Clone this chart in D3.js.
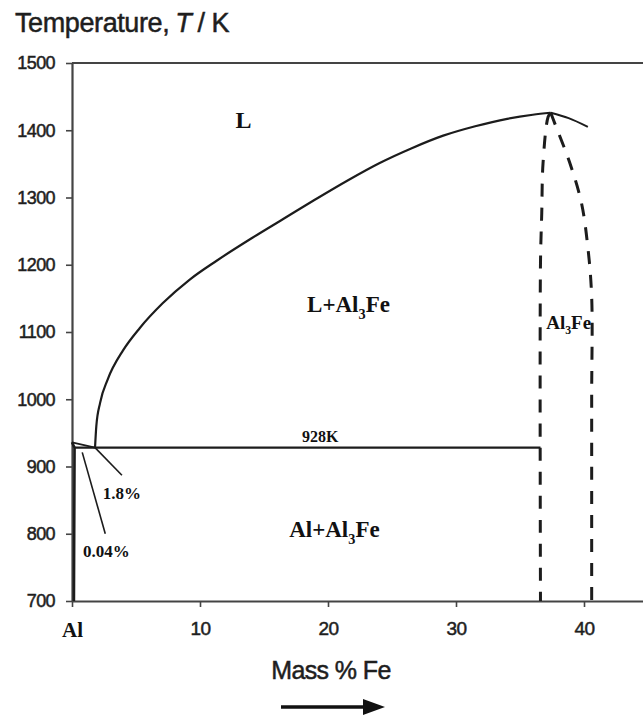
<!DOCTYPE html>
<html lang="en">
<head>
  <meta charset="UTF-8">
  <title>Al-Fe phase diagram</title>
  <script src="https://d3js.org/d3.v7.min.js"></script>
  <style>
    body { margin: 0; background: #fff; }
    .sans { font-family: 'Liberation Sans', Arial, sans-serif; fill: #1e1e1e; stroke: #1e1e1e; stroke-width: 0.5px; }
    .serif { font-family: 'Liberation Serif', 'Times New Roman', serif; font-weight: bold; fill: #111; }
  </style>
</head>
<body>
  <div id="chart"></div>

  <script>
    // axis ticks
    const yTicks = [700, 800, 900, 1000, 1100, 1200, 1300, 1400, 1500];
    const xTicks = [0, 10, 20, 30, 40];
    const xTickLabels = ["Al", "10", "20", "30", "40"];

    // phase boundaries, [mass % Fe, T / K]
    const liquidusAl = [[0, 936], [1.8, 928]];
    const solidusAl = [[0, 936], [0.2, 928], [0.15, 700]];
    const liquidusFe = [
      [1.8, 928], [1.9, 960], [2.2, 995], [2.8, 1030], [4.0, 1073], [5.3, 1106],
      [7.1, 1143], [9.2, 1178], [11.3, 1206], [14, 1239], [16.5, 1268], [19, 1297],
      [21.5, 1325], [24, 1351], [26.5, 1373], [29, 1392], [31.5, 1406], [34, 1417],
      [36, 1423], [37.4, 1426]
    ];
    const liquidusRight = [[37.4, 1426], [38.8, 1418], [40.3, 1405]];
    const eutectic = [[0.2, 928], [36.6, 928]];
    const al3feLeft = [[37.4, 1426], [37.2, 1420], [36.8, 1351], [36.7, 1277], [36.6, 1202], [36.6, 700]];
    const al3feRight = [[37.4, 1426], [37.7, 1411], [38.9, 1351], [39.8, 1292], [40.3, 1226], [40.6, 1152], [40.6, 1000], [40.6, 700]];
    const leader18 = [[1.8, 928], [3.9, 887]];
    const leader004 = [[0.8, 921], [2.6, 800]];

    // annotations: text parts, x (% Fe), y (K), anchor
    const labels = [
      { parts: [["L"]], x: 13.4, y: 1404, anchor: "middle", size: 24 },
      { parts: [["L+Al"], ["3", "sub"], ["Fe"]], x: 21.6, y: 1129, anchor: "middle", size: 23 },
      { parts: [["Al+Al"], ["3", "sub"], ["Fe"]], x: 20.5, y: 795, anchor: "middle", size: 23 },
      { parts: [["Al"], ["3", "sub"], ["Fe"]], x: 38.8, y: 1105, anchor: "middle", size: 19 },
      { parts: [["928K"]], x: 19.4, y: 937, anchor: "middle", size: 16 },
      { parts: [["1.8%"]], x: 2.4, y: 851, anchor: "start", size: 17 },
      { parts: [["0.04%"]], x: 0.85, y: 766, anchor: "start", size: 17 }
    ];

    const W = 643, H = 715;
    const svg = d3.select("#chart").append("svg")
      .attr("width", W).attr("height", H);

    const x = d3.scaleLinear().domain([0, 45]).range([72, 648]);
    const y = d3.scaleLinear().domain([700, 1500]).range([601, 63]);

    const axisColor = "#444";
    const lineColor = "#1c1c1c";

    // frame top line
    svg.append("line")
      .attr("x1", x(0)).attr("x2", W)
      .attr("y1", y(1500)).attr("y2", y(1500))
      .attr("stroke", axisColor).attr("stroke-width", 2.2);

    const yAxis = svg.append("g")
      .attr("transform", `translate(${x(0)},0)`)
      .call(d3.axisLeft(y).tickValues(yTicks).tickSize(6).tickSizeOuter(0)
        .tickPadding(11).tickFormat(d3.format("d")));
    yAxis.select(".domain").attr("stroke", axisColor).attr("stroke-width", 2.2);
    yAxis.selectAll(".tick line").attr("stroke", axisColor).attr("stroke-width", 1.6);
    yAxis.selectAll(".tick text")
      .attr("class", "sans").attr("font-size", 18)
      .attr("letter-spacing", "-0.6");

    const xAxis = svg.append("g")
      .attr("transform", `translate(0,${y(700)})`)
      .call(d3.axisBottom(x).tickValues(xTicks).tickSize(6).tickSizeOuter(0).tickPadding(15)
        .tickFormat((d, i) => xTickLabels[i]));
    xAxis.select(".domain").attr("stroke", axisColor).attr("stroke-width", 2.2);
    xAxis.selectAll(".tick line").attr("stroke", axisColor).attr("stroke-width", 1.6);
    xAxis.selectAll(".tick text")
      .attr("class", (d, i) => i === 0 ? "serif" : "sans")
      .attr("font-size", (d, i) => i === 0 ? 21 : 19)
      .attr("letter-spacing", (d, i) => i === 0 ? "0" : "-0.6");

    // phase boundary lines
    const straight = d3.line().x(d => x(d[0])).y(d => y(d[1]));
    const smooth = d3.line().x(d => x(d[0])).y(d => y(d[1])).curve(d3.curveCatmullRom.alpha(0.5));
    const monoX = d3.line().x(d => x(d[0])).y(d => y(d[1])).curve(d3.curveMonotoneX);

    const solid = [
      [liquidusAl, straight, 1.8], [solidusAl, straight, 2.6], [liquidusFe, monoX, 2.2],
      [liquidusRight, smooth, 2], [eutectic, straight, 2.2],
      [leader18, straight, 1.6], [leader004, straight, 1.6]
    ];
    solid.forEach(([pts, gen, w]) => {
      svg.append("path").datum(pts)
        .attr("d", gen).attr("fill", "none")
        .attr("stroke", lineColor).attr("stroke-width", w);
    });

    [al3feLeft, al3feRight].forEach(pts => {
      svg.append("path").datum(pts)
        .attr("d", smooth).attr("fill", "none")
        .attr("stroke", lineColor).attr("stroke-width", 3)
        .attr("stroke-dasharray", "13,11");
    });

    // text annotations
    labels.forEach(l => {
      const t = svg.append("text")
        .attr("class", "serif")
        .attr("x", x(l.x)).attr("y", y(l.y))
        .attr("text-anchor", l.anchor)
        .attr("font-size", l.size);
      l.parts.forEach(([s, kind], i) => {
        const ts = t.append("tspan").text(s);
        if (kind === "sub") ts.attr("font-size", l.size * 0.62).attr("dy", l.size * 0.3);
        else if (i > 0) ts.attr("dy", -l.size * 0.3);
      });
    });

    // y title, written in pieces so the italic T sits on its own
    let tx = 15;
    [["Temperature,", "normal"], ["T", "italic"], ["/ K", "normal"]].forEach(([s, st]) => {
      const t = svg.append("text")
        .attr("class", "sans")
        .attr("x", tx).attr("y", 32)
        .attr("font-size", 27)
        .attr("font-style", st)
        .attr("letter-spacing", "-0.4")
        .text(s);
      tx += t.node().getComputedTextLength() + 6;
    });

    svg.append("text")
      .attr("class", "sans")
      .attr("x", 331).attr("y", 679)
      .attr("text-anchor", "middle")
      .attr("font-size", 25)
      .attr("letter-spacing", "-0.6")
      .text("Mass % Fe");

    // arrow under the axis title
    const ax0 = 281, ax1 = 385, ay = 707;
    svg.append("line")
      .attr("x1", ax0).attr("x2", ax1 - 14)
      .attr("y1", ay).attr("y2", ay)
      .attr("stroke", "#111").attr("stroke-width", 3.5);
    svg.append("path")
      .attr("d", `M${ax1},${ay} L${ax1 - 22},${ay - 8} L${ax1 - 22},${ay + 8} Z`)
      .attr("fill", "#111");
  </script>
</body>
</html>
